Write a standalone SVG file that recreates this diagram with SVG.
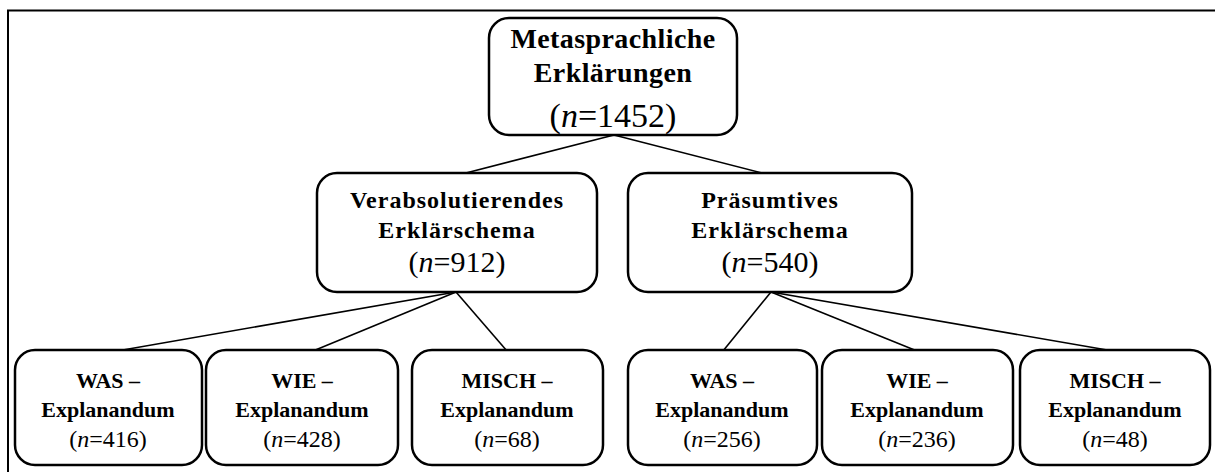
<svg xmlns="http://www.w3.org/2000/svg" width="1215" height="472" viewBox="0 0 1215 472">
  <style>
    .box { fill: #ffffff; stroke: #000000; stroke-width: 2.5; }
    .edge { stroke: #000000; stroke-width: 1.6; fill: none; }
    .t { font-family: "Liberation Serif", "Times New Roman", serif; fill: #000000; text-anchor: middle; }
    .b1 { font-weight: bold; font-size: 28px; letter-spacing: 0.4px; }
    .n1 { font-size: 34px; }
    .b2 { font-weight: bold; font-size: 24px; letter-spacing: 1px; }
    .n2 { font-size: 30px; }
    .b3 { font-weight: bold; font-size: 22px; }
    .n3 { font-size: 24px; }
    .i { font-style: italic; }
  </style>
  <rect x="0" y="0" width="1215" height="472" fill="#ffffff"/>
  <!-- outer frame -->
  <rect x="8" y="10.5" width="1230" height="480" fill="none" stroke="#000000" stroke-width="2"/>

  <g id="connectors">
    <line class="edge" x1="614" y1="135" x2="462" y2="174"/>
    <line class="edge" x1="614" y1="135" x2="766" y2="174"/>
    <line class="edge" x1="456" y1="292" x2="117" y2="351"/>
    <line class="edge" x1="456" y1="292" x2="313" y2="351"/>
    <line class="edge" x1="456" y1="292" x2="507" y2="351"/>
    <line class="edge" x1="771" y1="292" x2="723" y2="351"/>
    <line class="edge" x1="771" y1="292" x2="917" y2="351"/>
    <line class="edge" x1="771" y1="292" x2="1113" y2="351"/>
  </g>

  <g id="root">
    <rect class="box" x="489" y="18" width="248" height="117" rx="20"/>
    <text class="t b1" x="613" y="48">Metasprachliche</text>
    <text class="t b1" x="613" y="82">Erklärungen</text>
    <text class="t n1" x="613" y="127">(<tspan class="i">n</tspan>=1452)</text>
  </g>

  <g id="verabsolutierend">
    <rect class="box" x="317" y="173" width="280" height="119" rx="20"/>
    <text class="t b2" x="457" y="208">Verabsolutierendes</text>
    <text class="t b2" x="457" y="238">Erklärschema</text>
    <text class="t n2" x="457" y="272">(<tspan class="i">n</tspan>=912)</text>
  </g>

  <g id="praesumtiv">
    <rect class="box" x="628" y="173" width="284" height="119" rx="20"/>
    <text class="t b2" x="770" y="208">Präsumtives</text>
    <text class="t b2" x="770" y="238">Erklärschema</text>
    <text class="t n2" x="770" y="272">(<tspan class="i">n</tspan>=540)</text>
  </g>

  <g id="v-was">
    <rect class="box" x="15" y="350" width="187" height="115" rx="20"/>
    <text class="t b3" x="108" y="388">WAS –</text>
    <text class="t b3" x="108" y="417">Explanandum</text>
    <text class="t n3" x="108" y="447">(<tspan class="i">n</tspan>=416)</text>
  </g>

  <g id="v-wie">
    <rect class="box" x="206" y="350" width="192" height="115" rx="20"/>
    <text class="t b3" x="302" y="388">WIE –</text>
    <text class="t b3" x="302" y="417">Explanandum</text>
    <text class="t n3" x="302" y="447">(<tspan class="i">n</tspan>=428)</text>
  </g>

  <g id="v-misch">
    <rect class="box" x="412" y="350" width="191" height="115" rx="20"/>
    <text class="t b3" x="507" y="388">MISCH –</text>
    <text class="t b3" x="507" y="417">Explanandum</text>
    <text class="t n3" x="507" y="447">(<tspan class="i">n</tspan>=68)</text>
  </g>

  <g id="p-was">
    <rect class="box" x="628" y="350" width="189" height="115" rx="20"/>
    <text class="t b3" x="722" y="388">WAS –</text>
    <text class="t b3" x="722" y="417">Explanandum</text>
    <text class="t n3" x="722" y="447">(<tspan class="i">n</tspan>=256)</text>
  </g>

  <g id="p-wie">
    <rect class="box" x="822" y="350" width="191" height="115" rx="20"/>
    <text class="t b3" x="917" y="388">WIE –</text>
    <text class="t b3" x="917" y="417">Explanandum</text>
    <text class="t n3" x="917" y="447">(<tspan class="i">n</tspan>=236)</text>
  </g>

  <g id="p-misch">
    <rect class="box" x="1020" y="350" width="190" height="115" rx="20"/>
    <text class="t b3" x="1115" y="388">MISCH –</text>
    <text class="t b3" x="1115" y="417">Explanandum</text>
    <text class="t n3" x="1115" y="447">(<tspan class="i">n</tspan>=48)</text>
  </g>
</svg>
